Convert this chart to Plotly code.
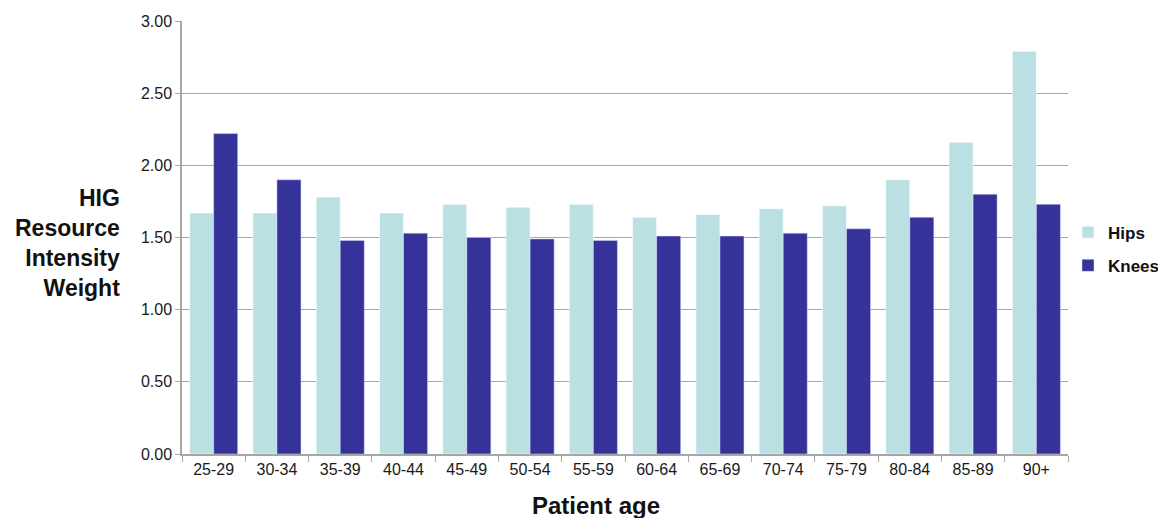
import plotly.graph_objects as go

categories = ["25-29", "30-34", "35-39", "40-44", "45-49", "50-54", "55-59",
              "60-64", "65-69", "70-74", "75-79", "80-84", "85-89", "90+"]
hips = [1.67, 1.67, 1.78, 1.67, 1.73, 1.71, 1.73, 1.64, 1.66, 1.70, 1.72, 1.90, 2.16, 2.79]
knees = [2.22, 1.90, 1.48, 1.53, 1.50, 1.49, 1.48, 1.51, 1.51, 1.53, 1.56, 1.64, 1.80, 1.73]
y_ticks = [0, 0.5, 1.0, 1.5, 2.0, 2.5, 3.0]

FONT = "Liberation Sans, Arial, sans-serif"
GRID = "#A6A6A6"

fig = go.Figure()
fig.add_trace(go.Bar(name="Hips", x=categories, y=hips, legendgroup="h",
                     marker=dict(color="#BAE0E3", line=dict(color="rgba(255,255,255,0.6)", width=1))))
fig.add_trace(go.Bar(name="Knees", x=categories, y=knees, legendgroup="k",
                     marker=dict(color="#35339A", line=dict(color="rgba(220,220,255,0.5)", width=1))))

# page body has an 8px margin, so the figure is sized to fit the 1166x518 window
fig.update_layout(
    width=1158, height=510,
    margin=dict(l=174, r=98, t=13, b=64, autoexpand=False),
    paper_bgcolor="white", plot_bgcolor="white",
    barmode="group", bargap=0.24, bargroupgap=0,
    font=dict(family=FONT, size=16, color="#1a1a1a"),
    legend=dict(x=1.0, y=0.473, xanchor="left", yanchor="middle",
                font=dict(family=FONT, size=17, color="#111", weight="bold"),
                tracegroupgap=8, itemwidth=30, bgcolor="rgba(0,0,0,0)"),
    xaxis=dict(showline=True, linecolor=GRID, linewidth=1.5,
               ticks="outside", tickson="boundaries", ticklen=6, tickcolor=GRID,
               showgrid=False, tickfont=dict(size=16, color="#1a1a1a")),
    yaxis=dict(range=[0, 3], tickvals=y_ticks, tickformat=".2f",
               showline=True, linecolor=GRID, linewidth=1.5,
               ticks="outside", ticklen=5, tickcolor=GRID,
               showgrid=True, gridcolor=GRID, gridwidth=1.3,
               zeroline=False, tickfont=dict(size=16, color="#1a1a1a")),
    annotations=[
        dict(text="<b>HIG<br>Resource<br>Intensity<br>Weight</b>",
             xref="paper", yref="paper", x=-0.068, y=0.487,
             xanchor="right", yanchor="middle", align="right", showarrow=False,
             font=dict(family=FONT, size=23, color="#111")),
        dict(text="<b>Patient age</b>",
             xref="paper", yref="paper", x=0.467, y=-0.12,
             xanchor="center", yanchor="middle", showarrow=False,
             font=dict(family=FONT, size=24, color="#111")),
    ],
)

fig.write_html("out.html")
